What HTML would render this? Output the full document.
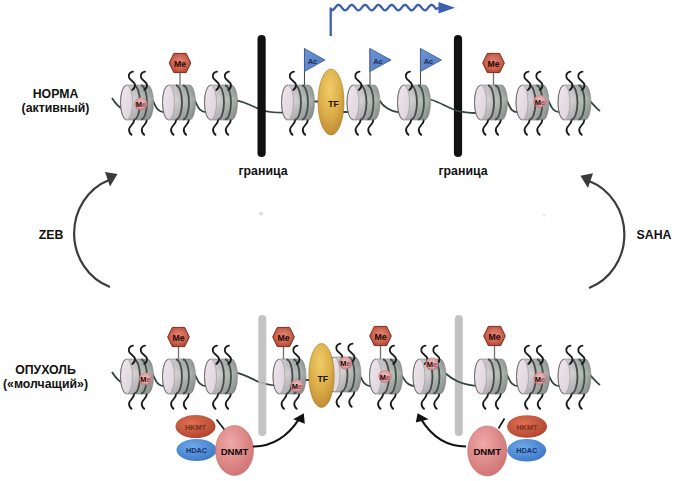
<!DOCTYPE html>
<html><head><meta charset="utf-8"><style>
html,body{margin:0;padding:0;background:#fff;}
svg{display:block;}
.tail{fill:none;stroke:#1a1a1a;stroke-width:1.85;stroke-linecap:round;}
.dna{fill:none;stroke:#34443e;stroke-width:1.8;}
text{font-family:"Liberation Sans",sans-serif;font-weight:bold;text-anchor:middle;}
.lbl{font-size:12.3px;fill:#111;}
.me{font-size:8.8px;fill:#2a0500;}
.mes{font-size:7.5px;fill:#1a0505;}
.ac{font-size:7.5px;fill:#1c3050;}
.tf{font-size:8.6px;fill:#1a1000;}
.hk{font-size:7.3px;fill:#7a2e22;}
.hd{font-size:7.3px;fill:#16326a;}
.dn{font-size:9.6px;fill:#120606;}
</style></head>
<body><svg width="674" height="481" viewBox="0 0 674 481">

<defs>
<linearGradient id="bodyG" x1="0" x2="1" y1="0" y2="0">
  <stop offset="0" stop-color="#dad6da"/>
  <stop offset="0.35" stop-color="#cac6ca"/>
  <stop offset="0.55" stop-color="#b0b6b2"/>
  <stop offset="0.8" stop-color="#a4aca8"/>
  <stop offset="1" stop-color="#8a928e"/>
</linearGradient>
<linearGradient id="bodyV" x1="0" x2="0" y1="0" y2="1">
  <stop offset="0" stop-color="#000" stop-opacity="0.05"/>
  <stop offset="0.4" stop-color="#fff" stop-opacity="0.15"/>
  <stop offset="1" stop-color="#000" stop-opacity="0.15"/>
</linearGradient>
<linearGradient id="faceG" x1="0" x2="1" y1="0" y2="1">
  <stop offset="0" stop-color="#f0e6ee"/>
  <stop offset="1" stop-color="#dcd4da"/>
</linearGradient>
<radialGradient id="hexG" cx="0.5" cy="0.45" r="0.6">
  <stop offset="0" stop-color="#e08a78"/>
  <stop offset="0.6" stop-color="#cc6450"/>
  <stop offset="1" stop-color="#a8402c"/>
</radialGradient>
<radialGradient id="cmeG" cx="0.5" cy="0.45" r="0.55">
  <stop offset="0" stop-color="#f2c4c4"/>
  <stop offset="0.65" stop-color="#e0a0a0"/>
  <stop offset="0.9" stop-color="#c07a7a" stop-opacity="0.9"/>
  <stop offset="1" stop-color="#b87070" stop-opacity="0.3"/>
</radialGradient>
<linearGradient id="flagG" x1="0" x2="1" y1="0" y2="1">
  <stop offset="0" stop-color="#6e94d4"/>
  <stop offset="1" stop-color="#5078c0"/>
</linearGradient>
<radialGradient id="tfG" cx="0.45" cy="0.3" r="0.75">
  <stop offset="0" stop-color="#f0cc68"/>
  <stop offset="0.55" stop-color="#dcae48"/>
  <stop offset="0.85" stop-color="#c8943a"/>
  <stop offset="1" stop-color="#b88430"/>
</radialGradient>
<radialGradient id="hkG" cx="0.4" cy="0.35" r="0.7">
  <stop offset="0" stop-color="#e07050"/>
  <stop offset="1" stop-color="#b04430"/>
</radialGradient>
<radialGradient id="hdG" cx="0.4" cy="0.35" r="0.7">
  <stop offset="0" stop-color="#70a8e8"/>
  <stop offset="1" stop-color="#3a78c8"/>
</radialGradient>
<radialGradient id="dnG" cx="0.4" cy="0.35" r="0.7">
  <stop offset="0" stop-color="#f0a8a8"/>
  <stop offset="1" stop-color="#d07272"/>
</radialGradient>
<g id="body">
  <path d="M6 0 H27 A6 17.5 0 0 1 27 35 H6 Z" fill="url(#bodyG)" stroke="#808080" stroke-width="0.6"/>
  <path d="M6 0 H27 A6 17.5 0 0 1 27 35 H6 Z" fill="url(#bodyV)"/>
  <path d="M13.5 0.5 A6 17 0 0 1 13.5 34.5" fill="none" stroke="#454a48" stroke-width="1.8"/>
  <path d="M20.5 0.5 A6 17 0 0 1 20.5 34.5" fill="none" stroke="#3e5048" stroke-width="1.8"/>
  <ellipse cx="6" cy="17.5" rx="6" ry="17.5" fill="url(#faceG)" stroke="#9a9a9a" stroke-width="0.7"/>
  <path d="M6 0.3 A6 17.2 0 0 0 6 34.7" fill="none" stroke="#5a5a5a" stroke-width="0.8"/>
</g>
</defs>

<line x1="458" y1="39" x2="458" y2="153" stroke="#111" stroke-width="8.2" stroke-linecap="round"/><path d="M112 98 C115 103 118 107 124 110 M152.5 100 C156.0 106 156.5 112 164.5 112.3 M194.5 100 C198.0 106 198.5 112 206.5 112.3 M237 100.7 C245 102 252 106 261 110 C267 112 274 112.6 284 112.7 M313 101.5 L322 101.5 M340 112 L350 112 M379.5 100.5 C383.0 106.5 391 112 399 112.3 M430.5 99.5 C440 102 448 108 457 110.8 C463 112.2 470 112.8 477 113 M506.5 100 C510.0 106 510 112 518 112.3 M548 100 C551.5 106 552 112 560 112.3 M589 100 C593 104 596 108 600 111" class="dna"/><line x1="261.6" y1="39" x2="261.6" y2="153" stroke="#111" stroke-width="8.2" stroke-linecap="round"/><g transform="translate(120.5,85)"><use href="#body"/><path d="M12.5 -13.3 C9.5 -12.8 7.5 -10.5 8.5 -7.5 C9.5 -4.5 14.5 -3.2 14.5 0.3 C14.5 2.8 13 4.2 11.8 5" class="tail"/><path d="M12.5 -13.3 C9.5 -12.8 7.5 -10.5 8.5 -7.5 C9.5 -4.5 14.5 -3.2 14.5 0.3 C14.5 2.8 13 4.2 11.8 5" class="tail" transform="translate(12,0)"/><path d="M13.5 35.5 C13.5 39 9 41 8.6 44 C8.3 46.5 9.5 48.5 11 49.8" class="tail"/><path d="M13.5 35.5 C13.5 39 9 41 8.6 44 C8.3 46.5 9.5 48.5 11 49.8" class="tail" transform="translate(12.7,0)"/></g><circle cx="141" cy="104" r="6.6" fill="url(#cmeG)"/><text x="141" y="107" class="mes">M<tspan fill="#9a4a4a">e</tspan></text><line x1="180" y1="72" x2="180" y2="87" stroke="#707070" stroke-width="1.3"/><polygon points="169.2,63 173.8,53.4 186.2,53.4 190.8,63 186.2,72.6 173.8,72.6" fill="url(#hexG)" stroke="#7e2c20" stroke-width="1"/><text x="180" y="66.6" class="me">Me</text><g transform="translate(162.5,85)"><use href="#body"/><path d="M13.5 35.5 C13.5 39 9 41 8.6 44 C8.3 46.5 9.5 48.5 11 49.8" class="tail"/><path d="M13.5 35.5 C13.5 39 9 41 8.6 44 C8.3 46.5 9.5 48.5 11 49.8" class="tail" transform="translate(12.7,0)"/></g><g transform="translate(204.5,85)"><use href="#body"/><path d="M12.5 -13.3 C9.5 -12.8 7.5 -10.5 8.5 -7.5 C9.5 -4.5 14.5 -3.2 14.5 0.3 C14.5 2.8 13 4.2 11.8 5" class="tail"/><path d="M12.5 -13.3 C9.5 -12.8 7.5 -10.5 8.5 -7.5 C9.5 -4.5 14.5 -3.2 14.5 0.3 C14.5 2.8 13 4.2 11.8 5" class="tail" transform="translate(12,0)"/><path d="M13.5 35.5 C13.5 39 9 41 8.6 44 C8.3 46.5 9.5 48.5 11 49.8" class="tail"/><path d="M13.5 35.5 C13.5 39 9 41 8.6 44 C8.3 46.5 9.5 48.5 11 49.8" class="tail" transform="translate(12.7,0)"/></g><line x1="304.5" y1="48.5" x2="304.5" y2="88" stroke="#4a4a4a" stroke-width="1.1"/><polygon points="304.5,48.5 325,60.0 304.5,71.5" fill="url(#flagG)" stroke="#3a5a9a" stroke-width="0.8"/><text x="312.5" y="63.5" class="ac">Ac</text><g transform="translate(281.5,85)"><use href="#body"/><path d="M12.5 -13.3 C9.5 -12.8 7.5 -10.5 8.5 -7.5 C9.5 -4.5 14.5 -3.2 14.5 0.3 C14.5 2.8 13 4.2 11.8 5" class="tail"/><path d="M13.5 35.5 C13.5 39 9 41 8.6 44 C8.3 46.5 9.5 48.5 11 49.8" class="tail"/><path d="M13.5 35.5 C13.5 39 9 41 8.6 44 C8.3 46.5 9.5 48.5 11 49.8" class="tail" transform="translate(12.7,0)"/></g><line x1="370" y1="48.5" x2="370" y2="88" stroke="#4a4a4a" stroke-width="1.1"/><polygon points="370,48.5 391,60.0 370,71.5" fill="url(#flagG)" stroke="#3a5a9a" stroke-width="0.8"/><text x="378" y="63.5" class="ac">Ac</text><g transform="translate(347,85)"><use href="#body"/><path d="M12.5 -13.3 C9.5 -12.8 7.5 -10.5 8.5 -7.5 C9.5 -4.5 14.5 -3.2 14.5 0.3 C14.5 2.8 13 4.2 11.8 5" class="tail"/><path d="M13.5 35.5 C13.5 39 9 41 8.6 44 C8.3 46.5 9.5 48.5 11 49.8" class="tail"/><path d="M13.5 35.5 C13.5 39 9 41 8.6 44 C8.3 46.5 9.5 48.5 11 49.8" class="tail" transform="translate(12.7,0)"/></g><line x1="420.5" y1="48.5" x2="420.5" y2="88" stroke="#4a4a4a" stroke-width="1.1"/><polygon points="420.5,48.5 441.5,60.0 420.5,71.5" fill="url(#flagG)" stroke="#3a5a9a" stroke-width="0.8"/><text x="428.5" y="63.5" class="ac">Ac</text><g transform="translate(397.5,85)"><use href="#body"/><path d="M12.5 -13.3 C9.5 -12.8 7.5 -10.5 8.5 -7.5 C9.5 -4.5 14.5 -3.2 14.5 0.3 C14.5 2.8 13 4.2 11.8 5" class="tail"/><path d="M13.5 35.5 C13.5 39 9 41 8.6 44 C8.3 46.5 9.5 48.5 11 49.8" class="tail"/><path d="M13.5 35.5 C13.5 39 9 41 8.6 44 C8.3 46.5 9.5 48.5 11 49.8" class="tail" transform="translate(12.7,0)"/></g><line x1="493.5" y1="72" x2="493.5" y2="87" stroke="#707070" stroke-width="1.3"/><polygon points="482.7,63 487.3,53.4 499.7,53.4 504.3,63 499.7,72.6 487.3,72.6" fill="url(#hexG)" stroke="#7e2c20" stroke-width="1"/><text x="493.5" y="66.6" class="me">Me</text><g transform="translate(474.5,85)"><use href="#body"/><path d="M13.5 35.5 C13.5 39 9 41 8.6 44 C8.3 46.5 9.5 48.5 11 49.8" class="tail"/><path d="M13.5 35.5 C13.5 39 9 41 8.6 44 C8.3 46.5 9.5 48.5 11 49.8" class="tail" transform="translate(12.7,0)"/></g><g transform="translate(516,85)"><use href="#body"/><path d="M12.5 -13.3 C9.5 -12.8 7.5 -10.5 8.5 -7.5 C9.5 -4.5 14.5 -3.2 14.5 0.3 C14.5 2.8 13 4.2 11.8 5" class="tail"/><path d="M12.5 -13.3 C9.5 -12.8 7.5 -10.5 8.5 -7.5 C9.5 -4.5 14.5 -3.2 14.5 0.3 C14.5 2.8 13 4.2 11.8 5" class="tail" transform="translate(12,0)"/><path d="M13.5 35.5 C13.5 39 9 41 8.6 44 C8.3 46.5 9.5 48.5 11 49.8" class="tail"/><path d="M13.5 35.5 C13.5 39 9 41 8.6 44 C8.3 46.5 9.5 48.5 11 49.8" class="tail" transform="translate(12.7,0)"/></g><circle cx="540" cy="101.5" r="6.6" fill="url(#cmeG)"/><text x="540" y="104.5" class="mes">M<tspan fill="#9a4a4a">e</tspan></text><g transform="translate(558,85)"><use href="#body"/><path d="M12.5 -13.3 C9.5 -12.8 7.5 -10.5 8.5 -7.5 C9.5 -4.5 14.5 -3.2 14.5 0.3 C14.5 2.8 13 4.2 11.8 5" class="tail"/><path d="M12.5 -13.3 C9.5 -12.8 7.5 -10.5 8.5 -7.5 C9.5 -4.5 14.5 -3.2 14.5 0.3 C14.5 2.8 13 4.2 11.8 5" class="tail" transform="translate(12,0)"/><path d="M13.5 35.5 C13.5 39 9 41 8.6 44 C8.3 46.5 9.5 48.5 11 49.8" class="tail"/><path d="M13.5 35.5 C13.5 39 9 41 8.6 44 C8.3 46.5 9.5 48.5 11 49.8" class="tail" transform="translate(12.7,0)"/></g><ellipse cx="331" cy="102" rx="13" ry="33" fill="url(#tfG)" stroke="#a07a20" stroke-width="0.6"/><text x="333.5" y="106.5" class="tf">TF</text><path d="M330.7 36 L330.7 8.5 L332.00 10.29 L332.47 10.18 L332.95 9.95 L333.42 9.59 L333.89 9.14 L334.36 8.61 L334.84 8.03 L335.31 7.43 L335.78 6.84 L336.25 6.28 L336.73 5.79 L337.20 5.39 L337.67 5.10 L338.15 4.94 L338.62 4.90 L339.09 5.00 L339.56 5.23 L340.04 5.58 L340.51 6.03 L340.98 6.55 L341.45 7.13 L341.93 7.73 L342.40 8.32 L342.87 8.88 L343.35 9.38 L343.82 9.78 L344.29 10.08 L344.76 10.26 L345.24 10.30 L345.71 10.21 L346.18 9.99 L346.65 9.65 L347.13 9.21 L347.60 8.68 L348.07 8.11 L348.55 7.51 L349.02 6.91 L349.49 6.35 L349.96 5.85 L350.44 5.44 L350.91 5.14 L351.38 4.95 L351.85 4.90 L352.33 4.98 L352.80 5.20 L353.27 5.53 L353.75 5.96 L354.22 6.48 L354.69 7.05 L355.16 7.65 L355.64 8.25 L356.11 8.81 L356.58 9.31 L357.05 9.73 L357.53 10.05 L358.00 10.24 L358.47 10.30 L358.95 10.23 L359.42 10.02 L359.89 9.70 L360.36 9.27 L360.84 8.76 L361.31 8.19 L361.78 7.59 L362.25 6.99 L362.73 6.43 L363.20 5.92 L363.67 5.49 L364.15 5.17 L364.62 4.97 L365.09 4.90 L365.56 4.96 L366.04 5.16 L366.51 5.48 L366.98 5.90 L367.45 6.41 L367.93 6.97 L368.40 7.57 L368.87 8.17 L369.35 8.74 L369.82 9.25 L370.29 9.68 L370.76 10.01 L371.24 10.22 L371.71 10.30 L372.18 10.24 L372.65 10.06 L373.13 9.75 L373.60 9.33 L374.07 8.83 L374.55 8.27 L375.02 7.67 L375.49 7.07 L375.96 6.50 L376.44 5.98 L376.91 5.54 L377.38 5.21 L377.85 4.99 L378.33 4.90 L378.80 4.95 L379.27 5.13 L379.75 5.43 L380.22 5.84 L380.69 6.33 L381.16 6.89 L381.64 7.49 L382.11 8.09 L382.58 8.66 L383.05 9.19 L383.53 9.63 L384.00 9.97 L384.47 10.20 L384.95 10.30 L385.42 10.26 L385.89 10.09 L386.36 9.80 L386.84 9.39 L387.31 8.90 L387.78 8.35 L388.25 7.75 L388.73 7.15 L389.20 6.57 L389.67 6.05 L390.15 5.60 L390.62 5.25 L391.09 5.01 L391.56 4.91 L392.04 4.93 L392.51 5.09 L392.98 5.38 L393.45 5.78 L393.93 6.26 L394.40 6.81 L394.87 7.41 L395.35 8.01 L395.82 8.59 L396.29 9.12 L396.76 9.58 L397.24 9.93 L397.71 10.18 L398.18 10.29 L398.65 10.27 L399.13 10.12 L399.60 9.84 L400.07 9.45 L400.55 8.97 L401.02 8.42 L401.49 7.83 L401.96 7.23 L402.44 6.65 L402.91 6.11 L403.38 5.65 L403.85 5.29 L404.33 5.04 L404.80 4.91 L405.27 4.92 L405.75 5.07 L406.22 5.33 L406.69 5.72 L407.16 6.19 L407.64 6.74 L408.11 7.33 L408.58 7.93 L409.05 8.51 L409.53 9.05 L410.00 9.52 L410.47 9.89 L410.95 10.15 L411.42 10.28 L411.89 10.28 L412.36 10.15 L412.84 9.89 L413.31 9.51 L413.78 9.04 L414.25 8.50 L414.73 7.92 L415.20 7.31 L415.67 6.73 L416.15 6.18 L416.62 5.71 L417.09 5.33 L417.56 5.06 L418.04 4.92 L418.51 4.91 L418.98 5.04 L419.45 5.29 L419.93 5.66 L420.40 6.12 L420.87 6.66 L421.35 7.24 L421.82 7.85 L422.29 8.44 L422.76 8.98 L423.24 9.46 L423.71 9.85 L424.18 10.12 L424.65 10.27 L425.13 10.29 L425.60 10.17 L426.07 9.93 L426.55 9.57 L427.02 9.11 L427.49 8.58 L427.96 8.00 L428.44 7.39 L428.91 6.80 L429.38 6.25 L429.85 5.77 L430.33 5.37 L430.80 5.09 L431.27 4.93 L431.75 4.91 L432.22 5.01 L432.69 5.25 L433.16 5.60 L433.64 6.06 L434.11 6.58 L434.58 7.16 L435.05 7.77 L435.53 8.36 L436.00 8.91 L439.5 7.8" fill="none" stroke="#3a5eb0" stroke-width="2.3" stroke-linejoin="round"/><polygon points="438.5,2 455,7.8 438.5,13.6" fill="#3a5eb0"/><text x="55.5" y="98" class="lbl">НОРМА</text><text x="55.5" y="112" class="lbl">(активный)</text><text x="263" y="175" class="lbl">граница</text><text x="463" y="175" class="lbl">граница</text><text x="51" y="238.5" class="lbl">ZEB</text><text x="654" y="238.5" class="lbl">SAHA</text><text x="45.5" y="373.5" class="lbl">ОПУХОЛЬ</text><text x="45.5" y="387.5" class="lbl">(«молчащий»)</text><path d="M110 287 A54 57 0 0 1 109 180" fill="none" stroke="#3c3c3c" stroke-width="2.2"/><polygon points="105,172 117.5,174 110,186.5" fill="#3a3a3a"/><path d="M589 288 A54 57 0 0 0 589 181" fill="none" stroke="#3c3c3c" stroke-width="2.2"/><polygon points="593,173.3 580.4,175.8 588,188" fill="#3a3a3a"/><line x1="458.8" y1="319" x2="458.8" y2="432" stroke="#c2c2c2" stroke-width="8" stroke-linecap="round"/><path d="M112 372 C115 377 118 381 124 384 M152.5 374 C156.0 380 156.5 386 164.5 386.3 M194.5 374 C198.0 380 198.5 386 206.5 386.3 M236.5 372.7 C245 375 252 379 260 382.3 C266 384.2 270 385 276 385.6 M304 380 L312 380 M359 374 C362.5 380 363.5 386 371.5 386.3 M401 374 C404.5 380 407 386 415 386.3 M445 373 C452 379 460 384.5 478 386.1 M506.5 374 C510.0 380 510.5 386 518.5 386.3 M548 374 C551.5 380 552 386 560 386.3 M589 374 C593 378 596 382 600 385" class="dna"/><line x1="262.3" y1="319" x2="262.3" y2="432" stroke="#bcbcbc" stroke-width="8" stroke-linecap="round" opacity="0.88"/><g transform="translate(120.5,359)"><use href="#body"/><path d="M12.5 -13.3 C9.5 -12.8 7.5 -10.5 8.5 -7.5 C9.5 -4.5 14.5 -3.2 14.5 0.3 C14.5 2.8 13 4.2 11.8 5" class="tail"/><path d="M12.5 -13.3 C9.5 -12.8 7.5 -10.5 8.5 -7.5 C9.5 -4.5 14.5 -3.2 14.5 0.3 C14.5 2.8 13 4.2 11.8 5" class="tail" transform="translate(12,0)"/><path d="M13.5 35.5 C13.5 39 9 41 8.6 44 C8.3 46.5 9.5 48.5 11 49.8" class="tail"/><path d="M13.5 35.5 C13.5 39 9 41 8.6 44 C8.3 46.5 9.5 48.5 11 49.8" class="tail" transform="translate(12.7,0)"/></g><circle cx="145.5" cy="379" r="6.6" fill="url(#cmeG)"/><text x="145.5" y="382" class="mes">M<tspan fill="#9a4a4a">e</tspan></text><line x1="178.5" y1="346" x2="178.5" y2="361" stroke="#707070" stroke-width="1.3"/><polygon points="167.7,337 172.3,327.4 184.7,327.4 189.3,337 184.7,346.6 172.3,346.6" fill="url(#hexG)" stroke="#7e2c20" stroke-width="1"/><text x="178.5" y="340.6" class="me">Me</text><g transform="translate(162.5,359)"><use href="#body"/><path d="M13.5 35.5 C13.5 39 9 41 8.6 44 C8.3 46.5 9.5 48.5 11 49.8" class="tail"/><path d="M13.5 35.5 C13.5 39 9 41 8.6 44 C8.3 46.5 9.5 48.5 11 49.8" class="tail" transform="translate(12.7,0)"/></g><g transform="translate(204.5,359)"><use href="#body"/><path d="M12.5 -13.3 C9.5 -12.8 7.5 -10.5 8.5 -7.5 C9.5 -4.5 14.5 -3.2 14.5 0.3 C14.5 2.8 13 4.2 11.8 5" class="tail"/><path d="M12.5 -13.3 C9.5 -12.8 7.5 -10.5 8.5 -7.5 C9.5 -4.5 14.5 -3.2 14.5 0.3 C14.5 2.8 13 4.2 11.8 5" class="tail" transform="translate(12,0)"/><path d="M13.5 35.5 C13.5 39 9 41 8.6 44 C8.3 46.5 9.5 48.5 11 49.8" class="tail"/><path d="M13.5 35.5 C13.5 39 9 41 8.6 44 C8.3 46.5 9.5 48.5 11 49.8" class="tail" transform="translate(12.7,0)"/></g><line x1="283.5" y1="346" x2="283.5" y2="361" stroke="#707070" stroke-width="1.3"/><polygon points="272.7,337 277.3,327.4 289.7,327.4 294.3,337 289.7,346.6 277.3,346.6" fill="url(#hexG)" stroke="#7e2c20" stroke-width="1"/><text x="283.5" y="340.6" class="me">Me</text><g transform="translate(273,359)"><use href="#body"/><path d="M12.5 -13.3 C9.5 -12.8 7.5 -10.5 8.5 -7.5 C9.5 -4.5 14.5 -3.2 14.5 0.3 C14.5 2.8 13 4.2 11.8 5" class="tail" transform="translate(12,0)"/><path d="M13.5 35.5 C13.5 39 9 41 8.6 44 C8.3 46.5 9.5 48.5 11 49.8" class="tail"/><path d="M13.5 35.5 C13.5 39 9 41 8.6 44 C8.3 46.5 9.5 48.5 11 49.8" class="tail" transform="translate(12.7,0)"/></g><circle cx="297" cy="386" r="6.6" fill="url(#cmeG)"/><text x="297" y="389" class="mes">M<tspan fill="#9a4a4a">e</tspan></text><g transform="translate(328,357)"><use href="#body"/><path d="M12.5 -13.3 C9.5 -12.8 7.5 -10.5 8.5 -7.5 C9.5 -4.5 14.5 -3.2 14.5 0.3 C14.5 2.8 13 4.2 11.8 5" class="tail"/><path d="M12.5 -13.3 C9.5 -12.8 7.5 -10.5 8.5 -7.5 C9.5 -4.5 14.5 -3.2 14.5 0.3 C14.5 2.8 13 4.2 11.8 5" class="tail" transform="translate(12,0)"/><path d="M13.5 35.5 C13.5 39 9 41 8.6 44 C8.3 46.5 9.5 48.5 11 49.8" class="tail"/><path d="M13.5 35.5 C13.5 39 9 41 8.6 44 C8.3 46.5 9.5 48.5 11 49.8" class="tail" transform="translate(12.7,0)"/></g><circle cx="345.5" cy="363" r="6.6" fill="url(#cmeG)"/><text x="345.5" y="366" class="mes">M<tspan fill="#9a4a4a">e</tspan></text><ellipse cx="321.5" cy="375.5" rx="12.7" ry="32" fill="url(#tfG)" stroke="#a07a20" stroke-width="0.6"/><text x="322.7" y="382" class="tf">TF</text><line x1="380.5" y1="345" x2="380.5" y2="361" stroke="#707070" stroke-width="1.3"/><polygon points="369.7,336 374.3,326.4 386.7,326.4 391.3,336 386.7,345.6 374.3,345.6" fill="url(#hexG)" stroke="#7e2c20" stroke-width="1"/><text x="380.5" y="339.6" class="me">Me</text><g transform="translate(369.5,359)"><use href="#body"/><path d="M12.5 -13.3 C9.5 -12.8 7.5 -10.5 8.5 -7.5 C9.5 -4.5 14.5 -3.2 14.5 0.3 C14.5 2.8 13 4.2 11.8 5" class="tail" transform="translate(12,0)"/><path d="M13.5 35.5 C13.5 39 9 41 8.6 44 C8.3 46.5 9.5 48.5 11 49.8" class="tail"/><path d="M13.5 35.5 C13.5 39 9 41 8.6 44 C8.3 46.5 9.5 48.5 11 49.8" class="tail" transform="translate(12.7,0)"/></g><circle cx="385" cy="376.5" r="6.6" fill="url(#cmeG)"/><text x="385" y="379.5" class="mes">M<tspan fill="#9a4a4a">e</tspan></text><g transform="translate(413,359)"><use href="#body"/><path d="M12.5 -13.3 C9.5 -12.8 7.5 -10.5 8.5 -7.5 C9.5 -4.5 14.5 -3.2 14.5 0.3 C14.5 2.8 13 4.2 11.8 5" class="tail"/><path d="M12.5 -13.3 C9.5 -12.8 7.5 -10.5 8.5 -7.5 C9.5 -4.5 14.5 -3.2 14.5 0.3 C14.5 2.8 13 4.2 11.8 5" class="tail" transform="translate(12,0)"/><path d="M13.5 35.5 C13.5 39 9 41 8.6 44 C8.3 46.5 9.5 48.5 11 49.8" class="tail"/><path d="M13.5 35.5 C13.5 39 9 41 8.6 44 C8.3 46.5 9.5 48.5 11 49.8" class="tail" transform="translate(12.7,0)"/></g><circle cx="432" cy="364" r="6.6" fill="url(#cmeG)"/><text x="432" y="367" class="mes">M<tspan fill="#9a4a4a">e</tspan></text><line x1="494.5" y1="345" x2="494.5" y2="361" stroke="#707070" stroke-width="1.3"/><polygon points="483.7,336 488.3,326.4 500.7,326.4 505.3,336 500.7,345.6 488.3,345.6" fill="url(#hexG)" stroke="#7e2c20" stroke-width="1"/><text x="494.5" y="339.6" class="me">Me</text><g transform="translate(474.5,359)"><use href="#body"/><path d="M13.5 35.5 C13.5 39 9 41 8.6 44 C8.3 46.5 9.5 48.5 11 49.8" class="tail"/><path d="M13.5 35.5 C13.5 39 9 41 8.6 44 C8.3 46.5 9.5 48.5 11 49.8" class="tail" transform="translate(12.7,0)"/></g><g transform="translate(516.5,359)"><use href="#body"/><path d="M12.5 -13.3 C9.5 -12.8 7.5 -10.5 8.5 -7.5 C9.5 -4.5 14.5 -3.2 14.5 0.3 C14.5 2.8 13 4.2 11.8 5" class="tail"/><path d="M12.5 -13.3 C9.5 -12.8 7.5 -10.5 8.5 -7.5 C9.5 -4.5 14.5 -3.2 14.5 0.3 C14.5 2.8 13 4.2 11.8 5" class="tail" transform="translate(12,0)"/><path d="M13.5 35.5 C13.5 39 9 41 8.6 44 C8.3 46.5 9.5 48.5 11 49.8" class="tail"/><path d="M13.5 35.5 C13.5 39 9 41 8.6 44 C8.3 46.5 9.5 48.5 11 49.8" class="tail" transform="translate(12.7,0)"/></g><circle cx="540" cy="378.5" r="6.6" fill="url(#cmeG)"/><text x="540" y="381.5" class="mes">M<tspan fill="#9a4a4a">e</tspan></text><g transform="translate(558,359)"><use href="#body"/><path d="M12.5 -13.3 C9.5 -12.8 7.5 -10.5 8.5 -7.5 C9.5 -4.5 14.5 -3.2 14.5 0.3 C14.5 2.8 13 4.2 11.8 5" class="tail"/><path d="M12.5 -13.3 C9.5 -12.8 7.5 -10.5 8.5 -7.5 C9.5 -4.5 14.5 -3.2 14.5 0.3 C14.5 2.8 13 4.2 11.8 5" class="tail" transform="translate(12,0)"/><path d="M13.5 35.5 C13.5 39 9 41 8.6 44 C8.3 46.5 9.5 48.5 11 49.8" class="tail"/><path d="M13.5 35.5 C13.5 39 9 41 8.6 44 C8.3 46.5 9.5 48.5 11 49.8" class="tail" transform="translate(12.7,0)"/></g><line x1="216.5" y1="419.5" x2="225.5" y2="431" stroke="#111" stroke-width="1.6"/><ellipse cx="195.5" cy="426.5" rx="20" ry="11.5" fill="url(#hkG)"/><text x="195.5" y="429.5" class="hk">HKMT</text><ellipse cx="196.5" cy="450" rx="20" ry="11" fill="url(#hdG)"/><text x="196.5" y="453" class="hd">HDAC</text><ellipse cx="234.5" cy="450.5" rx="19" ry="25" fill="url(#dnG)" stroke="#c07070" stroke-width="0.6"/><text x="234.5" y="454.5" class="dn">DNMT</text><path d="M253 446.5 C272 446.5 288 436 299 419" fill="none" stroke="#111" stroke-width="2.2"/><polygon points="293.2,419.3 303.8,413.3 304.8,423.7" fill="#111"/><line x1="498.5" y1="428.5" x2="504.5" y2="418.5" stroke="#111" stroke-width="1.6"/><ellipse cx="527" cy="426.5" rx="20" ry="11.3" fill="url(#hkG)"/><text x="527" y="429.5" class="hk">HKMT</text><ellipse cx="526.7" cy="450.3" rx="19.5" ry="11.2" fill="url(#hdG)"/><text x="526.7" y="453.3" class="hd">HDAC</text><ellipse cx="487.3" cy="450.9" rx="19.6" ry="25" fill="url(#dnG)" stroke="#c07070" stroke-width="0.6"/><text x="487.3" y="455" class="dn">DNMT</text><path d="M466 446.5 C448 446.5 432 437 421 419" fill="none" stroke="#111" stroke-width="2.2"/><polygon points="415.8,422.6 417.6,413.2 428.6,419.2" fill="#111"/><ellipse cx="261" cy="213.7" rx="2.2" ry="1.6" fill="#dedede"/><ellipse cx="544.3" cy="215.4" rx="1.6" ry="1" fill="#e4e4e4"/>
</svg></body></html>
